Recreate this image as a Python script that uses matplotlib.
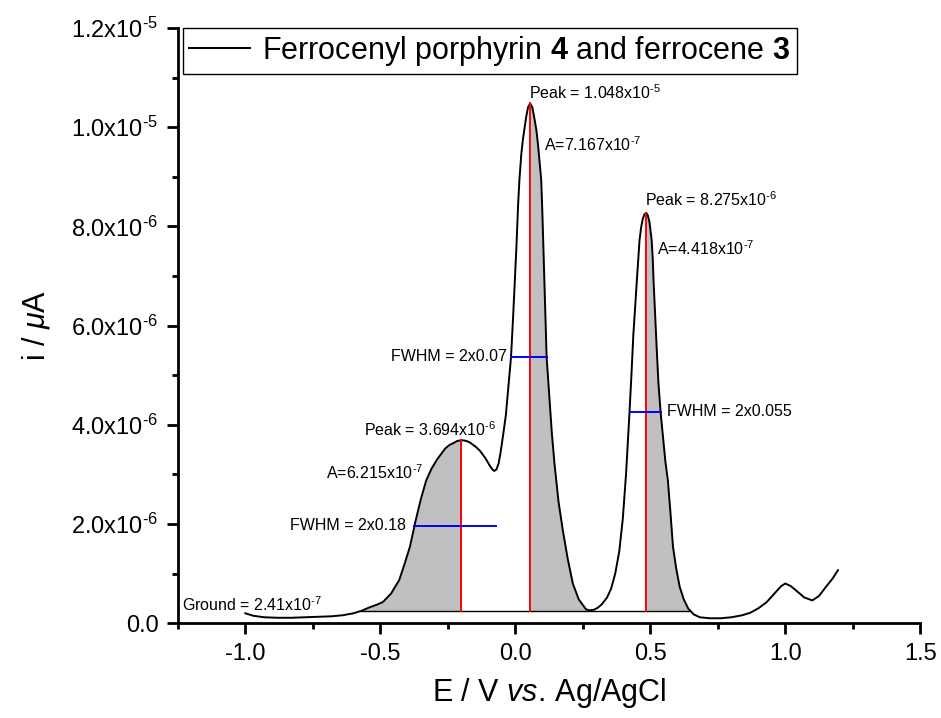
import numpy as np
import matplotlib
matplotlib.use('Agg')
import matplotlib.pyplot as plt
from matplotlib.ticker import MultipleLocator

plt.rcParams['font.family'] = ['Liberation Sans', 'DejaVu Sans']
plt.rcParams['mathtext.fontset'] = 'custom'
plt.rcParams['mathtext.rm'] = 'Liberation Sans'
plt.rcParams['mathtext.it'] = 'Liberation Sans:italic'
plt.rcParams['mathtext.bf'] = 'Liberation Sans:bold'
plt.rcParams['mathtext.default'] = 'regular'

# potential (V) and current (1e-6 A)
potential = [-1.00, -0.97, -0.93, -0.88, -0.83, -0.78, -0.73, -0.68, -0.64, -0.60,
             -0.57, -0.54, -0.51, -0.49, -0.46, -0.43, -0.41, -0.39, -0.37, -0.35,
             -0.33, -0.31, -0.29, -0.26, -0.245, -0.23, -0.215, -0.20, -0.185, -0.17,
             -0.16, -0.145, -0.13, -0.11, -0.095, -0.085, -0.078, -0.07, -0.062, -0.055,
             -0.045, -0.035, -0.025, -0.016, -0.008, -0.002, 0.004, 0.010, 0.015, 0.022,
             0.028, 0.033, 0.040, 0.047, 0.055, 0.063, 0.070, 0.078, 0.084, 0.090,
             0.096, 0.100, 0.104, 0.108, 0.112, 0.116, 0.126, 0.135, 0.145, 0.160,
             0.176, 0.194, 0.213, 0.235, 0.262, 0.275, 0.290, 0.305, 0.32, 0.34,
             0.355, 0.37, 0.385, 0.398, 0.410, 0.423, 0.430, 0.437, 0.444, 0.450,
             0.455, 0.460, 0.466, 0.472, 0.478, 0.485, 0.491, 0.497, 0.505, 0.509,
             0.512, 0.518, 0.524, 0.530, 0.538, 0.548, 0.556, 0.565, 0.575, 0.584,
             0.596, 0.609, 0.624, 0.640, 0.660, 0.683, 0.72, 0.76, 0.80, 0.84,
             0.87, 0.90, 0.93, 0.96, 0.985, 1.00, 1.02, 1.04, 1.07, 1.10,
             1.125, 1.15, 1.175, 1.195]
current = [0.20, 0.15, 0.12, 0.11, 0.11, 0.12, 0.13, 0.14, 0.16, 0.20,
           0.25, 0.32, 0.38, 0.43, 0.60, 0.87, 1.20, 1.55, 2.05, 2.50,
           2.88, 3.12, 3.30, 3.52, 3.59, 3.63, 3.675, 3.69, 3.68, 3.65,
           3.61, 3.55, 3.47, 3.32, 3.18, 3.10, 3.07, 3.10, 3.22, 3.43,
           3.80, 4.20, 4.80, 5.36, 6.20, 6.90, 7.58, 8.40, 8.93, 9.45,
           9.75, 9.94, 10.20, 10.40, 10.48, 10.40, 10.20, 9.94, 9.65, 9.30,
           8.93, 8.30, 7.58, 6.90, 6.10, 5.36, 4.56, 3.85, 3.22, 2.45,
           1.87, 1.30, 0.80, 0.48, 0.28, 0.26, 0.27, 0.31, 0.38, 0.52,
           0.70, 1.00, 1.45, 2.10, 3.00, 4.26, 5.00, 5.80, 6.40, 6.90,
           7.30, 7.72, 7.98, 8.15, 8.24, 8.275, 8.22, 8.08, 7.72, 7.35,
           6.90, 6.20, 5.50, 4.85, 4.26, 3.70, 3.25, 2.88, 2.20, 1.54,
           1.10, 0.73, 0.48, 0.30, 0.18, 0.12, 0.10, 0.10, 0.12, 0.16,
           0.21, 0.30, 0.42, 0.60, 0.75, 0.80, 0.75, 0.66, 0.52, 0.46,
           0.55, 0.73, 0.90, 1.07]

ground = 0.241
peak_x = [-0.20, 0.055, 0.485]
peak_y = [3.694, 10.48, 8.275]
# shaded windows (start, end) for the integrated areas
area_windows = [(-0.60, -0.20), (0.055, 0.30), (0.485, 0.70)]
fwhm_left = [-0.375, -0.016, 0.423]
fwhm_right = [-0.072, 0.116, 0.538]
fwhm_y = [1.96, 5.36, 4.26]

ytick_vals = [0, 2e-6, 4e-6, 6e-6, 8e-6, 1.0e-5, 1.2e-5]
ytick_labels = ['0.0', r'2.0x10$^{\text{-}6}$', r'4.0x10$^{\text{-}6}$', r'6.0x10$^{\text{-}6}$',
                r'8.0x10$^{\text{-}6}$', r'1.0x10$^{\text{-}5}$', r'1.2x10$^{\text{-}5}$']
xtick_vals = [-1.0, -0.5, 0.0, 0.5, 1.0, 1.5]
xtick_labels = ['-1.0', '-0.5', '0.0', '0.5', '1.0', '1.5']

x = np.array(potential)
y = np.array(current) * 1e-6
g = ground * 1e-6

fig = plt.figure(figsize=(9.41, 7.18), dpi=100)
ax = fig.add_axes([0.189, 0.132, 0.789, 0.829])

for x0, x1 in area_windows:
    mask = (x >= x0) & (x <= x1)
    xs, ys = x[mask], y[mask]
    ax.fill_between(xs, ys, g, where=ys >= g, interpolate=True, color='#c0c0c0', linewidth=0)
ax.plot([-0.57, 0.645], [g, g], color='black', linewidth=1)
ax.plot(x, y, color='black', linewidth=1.4, label=r'Ferrocenyl porphyrin $\mathbf{4}$ and ferrocene $\mathbf{3}$')
for px, py in zip(peak_x, peak_y):
    ax.plot([px, px], [g, py * 1e-6], color='red', linewidth=1.4)
for xl, xr, yy in zip(fwhm_left, fwhm_right, fwhm_y):
    ax.plot([xl, xr], [yy * 1e-6, yy * 1e-6], color='blue', linewidth=1.4)

fs = 11.5
ax.text(0.052, 10.69e-6, r'Peak = 1.048x10$^{\text{-}5}$', fontsize=fs, va='center')
ax.text(0.108, 9.64e-6, r'A=7.167x10$^{\text{-}7}$', fontsize=fs, va='center')
ax.text(0.479, 8.53e-6, r'Peak = 8.275x10$^{\text{-}6}$', fontsize=fs, va='center')
ax.text(0.523, 7.56e-6, r'A=4.418x10$^{\text{-}7}$', fontsize=fs, va='center')
ax.text(-0.03, 5.38e-6, 'FWHM = 2x0.07', fontsize=fs, va='center', ha='right')
ax.text(0.56, 4.27e-6, 'FWHM = 2x0.055', fontsize=fs, va='center')
ax.text(-0.56, 3.91e-6, r'Peak = 3.694x10$^{\text{-}6}$', fontsize=fs, va='center')
ax.text(-0.70, 3.04e-6, r'A=6.215x10$^{\text{-}7}$', fontsize=fs, va='center')
ax.text(-0.405, 1.98e-6, 'FWHM = 2x0.18', fontsize=fs, va='center', ha='right')
ax.text(-1.236, 0.38e-6, r'Ground = 2.41x10$^{\text{-}7}$', fontsize=fs, va='center')

ax.set_xlim(-1.25, 1.5)
ax.set_ylim(0, 1.2e-5)
ax.set_xticks(xtick_vals)
ax.set_xticklabels(xtick_labels)
ax.xaxis.set_minor_locator(MultipleLocator(0.25))
ax.set_yticks(ytick_vals)
ax.set_yticklabels(ytick_labels)
ax.yaxis.set_minor_locator(MultipleLocator(1e-6))
ax.tick_params(which='major', direction='out', length=8, width=2, labelsize=17, pad=6)
ax.tick_params(which='minor', direction='out', length=4.5, width=2)
for side in ['top', 'right']:
    ax.spines[side].set_visible(False)
for side in ['left', 'bottom']:
    ax.spines[side].set_linewidth(2)

ax.set_xlabel(r'E / V $\mathit{vs.}\,$Ag/AgCl', fontsize=22, labelpad=8)
ax.set_ylabel(r'i / $\mathit{\mu}$A', fontsize=22, labelpad=14)
leg = ax.legend(loc='upper left', bbox_to_anchor=(0.007, 1.0), borderaxespad=0, fontsize=22,
                fancybox=False, edgecolor='black', framealpha=1, handlelength=2.0,
                handletextpad=0.4, borderpad=0.2)
leg.get_frame().set_linewidth(1)

plt.savefig('out.png', dpi=100)
plt.close()
